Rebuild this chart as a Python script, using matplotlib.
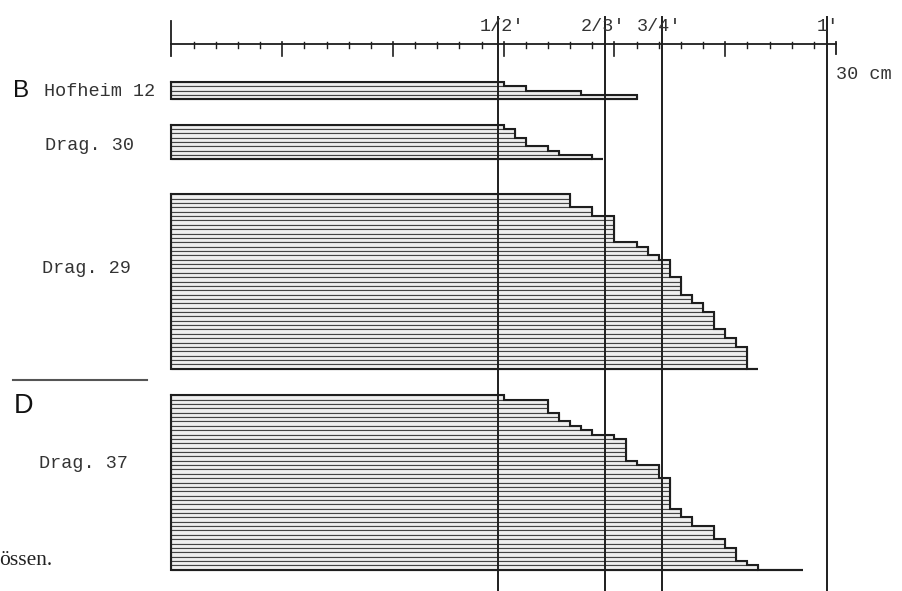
import matplotlib
matplotlib.use("Agg")
import matplotlib.pyplot as plt
from matplotlib.patches import Rectangle

# ---------------- data (vessel diameters in cm, sorted) ----------------
group_names = ["Hofheim 12", "Drag. 30", "Drag. 29", "Drag. 37"]
section_letters = ["B", "D"]

hofheim12 = [15, 16, 18.5, 21]
hofheim12_max = None

drag30 = [15, 15.5, 15.5, 16, 16, 17, 17.5, 19]
drag30_max = 19.5

drag29 = [18, 18, 18, 19, 19, 20, 20, 20, 20, 20, 20, 21, 21.5, 21.5, 22,
          22.5, 22.5, 22.5, 22.5, 23, 23, 23, 23, 23.5, 23.5, 24, 24,
          24.5, 24.5, 24.5, 24.5, 25, 25, 25.5, 25.5, 26, 26, 26, 26, 26]
drag29_max = 26.5

drag37 = [15, 17, 17, 17, 17.5, 17.5, 18, 18.5, 19, 20,
          20.5, 20.5, 20.5, 20.5, 20.5, 21, 22, 22, 22,
          22.5, 22.5, 22.5, 22.5, 22.5, 22.5, 22.5, 23, 23, 23.5, 23.5,
          24.5, 24.5, 24.5, 25, 25, 25.5, 25.5, 25.5, 26, 26.5]
drag37_max = 28.5

# Roman-foot reference lines (cm, as drawn)
foot_positions_cm = [14.75, 19.57, 22.15, 29.6]
foot_labels = ["1/2'", "2/3'", "3/4'", "1'"]
scale_max_cm = 30
scale_label = "30 cm"
caption_fragment = "össen."

# ---------------- layout ----------------
W, H = 903, 591
X0_PX, PX_PER_CM = 171.5, 22.15
BAR_H = 4.36                      # height of one vessel bar (pixel units)
group_tops = [82, 124.5, 194.3, 395.3]
group_values = [hofheim12, drag30, drag29, drag37]
group_max = [hofheim12_max, drag30_max, drag29_max, drag37_max]
label_pos = [(44, 96), (45, 150), (42, 273), (39, 468)]   # px, baseline
INK = "#1e1e1e"


def X(px):
    return (px - X0_PX) / PX_PER_CM


fig = plt.figure(figsize=(W / 100, H / 100), dpi=100)
ax = fig.add_axes([0, 0, 1, 1])
ax.set_xlim(X(0), X(W))
ax.set_ylim(H, 0)
ax.axis("off")

mono = ["Liberation Mono", "DejaVu Sans Mono"]

# ---------------- bars ----------------
for vals, top, vmax in zip(group_values, group_tops, group_max):
    n = len(vals)
    for i, v in enumerate(vals):
        ax.add_patch(Rectangle((0, top + i * BAR_H), v, BAR_H,
                               facecolor="#efefef", edgecolor="#444444",
                               linewidth=0.8, zorder=2))
    # stepped envelope
    xs, ys = [0], [top]
    for i, v in enumerate(vals):
        xs += [v, v]
        ys += [top + i * BAR_H, top + (i + 1) * BAR_H]
    bottom = top + n * BAR_H
    end = vmax if vmax is not None else vals[-1]
    xs += [end, 0, 0]
    ys += [bottom, bottom, top]
    ax.plot(xs, ys, color=INK, linewidth=1.5, zorder=3,
            solid_joinstyle="miter")

# group labels
for name, (px, py) in zip(group_names, label_pos):
    ax.text(X(px), py, name, fontsize=13.3, family=mono, color="#333333",
            ha="left", va="baseline")

# section letters
ax.text(X(13), 97, section_letters[0], fontsize=17.5,
        family=["Liberation Sans", "DejaVu Sans"], color="#111111",
        ha="left", va="baseline")
ax.text(X(14), 413, section_letters[1], fontsize=19.5,
        family=["Liberation Sans", "DejaVu Sans"], color="#111111",
        ha="left", va="baseline")
ax.plot([X(12.7), X(146.7)], [380, 380], color="#555555", linewidth=1.5)

# ---------------- top scale ----------------
AX_Y = 43.5
ax.plot([0, scale_max_cm], [AX_Y, AX_Y], color=INK, linewidth=1.3)
for c in range(0, scale_max_cm + 1):
    if c == 0:
        y0, y1, lw = 21, 56, 1.3
    elif c == scale_max_cm:
        y0, y1, lw = 42, 54, 1.3
    elif c % 5 == 0:
        y0, y1, lw = 42, 56, 1.2
    else:
        y0, y1, lw = 42, 47.5, 1.0
    ax.plot([c, c], [y0, y1], color=INK, linewidth=lw)
ax.text(X(836), 79, scale_label, fontsize=13.3, family=mono,
        color="#333333", ha="left", va="baseline")

# foot reference lines
label_dx_px = [-19, -24, -25, -10]
for xc, lab, dx in zip(foot_positions_cm, foot_labels, label_dx_px):
    ax.plot([xc, xc], [17, H], color=INK, linewidth=1.4, zorder=4)
    ax.text(xc + dx / PX_PER_CM, 31, lab, fontsize=13.3, family=mono,
            color="#333333", ha="left", va="baseline", zorder=5)

# caption fragment
ax.text(X(-1), 565, caption_fragment, fontsize=15.5,
        family=["Liberation Serif", "DejaVu Serif"], color="#222222",
        ha="left", va="baseline")

fig.savefig("out.png", dpi=100)
